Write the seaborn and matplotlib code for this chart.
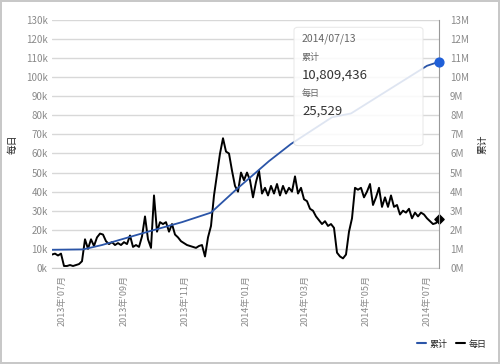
import pandas as pd
import numpy as np
import matplotlib
matplotlib.use('Agg')
import matplotlib.pyplot as plt
from matplotlib.patches import FancyBboxPatch
from matplotlib.ticker import FuncFormatter, MultipleLocator
import seaborn as sns

# daily values (k), one reading every 3 days starting 2013-06-21
daily_k = [7, 7.5, 6.5, 7.5, 1, 1, 1.5, 1, 1.5, 2, 3.5, 15, 10, 15, 11.5, 16, 18, 17.5, 14, 12.5,
           13.5, 12, 13, 12, 13.5, 12.5, 17, 11, 12, 11, 16.5, 27, 15, 10.5, 38, 19, 24, 23, 24, 19,
           23, 17.5, 16, 14, 13, 12, 11.5, 11, 10.5, 11.5, 12, 6, 16, 22, 38, 49, 60, 68, 61, 60,
           51, 43, 40, 50, 46, 50, 46, 37, 45, 51, 39, 42, 38, 43, 39, 44, 38, 43, 39, 42,
           40, 48, 39, 42, 36, 35, 31, 30, 27, 25, 23, 24.5, 22, 23, 21, 8, 6, 5, 7, 19,
           26, 42, 41, 42, 37, 40, 44, 33, 37, 42, 32, 37, 32, 38, 32, 33, 28, 30, 29, 31,
           26, 29, 27, 29, 28, 26, 24.5, 23, 23.5, 25.529]
daily_dates = pd.date_range('2013-06-21', periods=len(daily_k), freq='3D')

# cumulative total (M) read at these dates
cum_dates = pd.to_datetime(['2013-06-21', '2013-07-22', '2013-08-10', '2013-09-27', '2013-10-29',
                            '2013-11-27', '2013-12-22', '2014-01-24', '2014-02-15', '2014-03-28',
                            '2014-04-16', '2014-07-01', '2014-07-13'])
cum_m = [0.95, 0.97, 1.2, 1.93, 2.4, 2.9, 4.1, 5.6, 6.5, 7.9, 8.1, 10.6, 10.809436]

tick_dates = pd.to_datetime(['2013-07-01', '2013-09-01', '2013-11-01', '2014-01-01',
                             '2014-03-01', '2014-05-01', '2014-07-01'])

daily = pd.DataFrame({'date': daily_dates, 'v': np.array(daily_k) * 1000})
cum = pd.DataFrame({'date': cum_dates, 'v': np.array(cum_m) * 1e6})

sns.set_style('white')
plt.rcParams['font.family'] = ['Noto Sans CJK SC', 'DejaVu Sans']

fig = plt.figure(figsize=(5, 3.64), dpi=100)
fig.patch.set_edgecolor('#c8c8c8')
fig.patch.set_linewidth(1.5)
ax = fig.add_axes([0.104, 0.264, 0.774, 0.681])
ax2 = ax.twinx()

gray = '#8a8a8a'
blue_line = '#2b55a8'

sns.lineplot(data=daily, x='date', y='v', ax=ax, color='black', linewidth=1.4, zorder=3)
sns.lineplot(data=cum, x='date', y='v', ax=ax2, color=blue_line, linewidth=1.3, zorder=2)

ax.set_ylim(0, 130000)
ax2.set_ylim(0, 13e6)
ax.set_xlim(daily_dates[0], daily_dates[-1])
ax.yaxis.set_major_locator(MultipleLocator(10000))
ax2.yaxis.set_major_locator(MultipleLocator(1e6))
ax.yaxis.set_major_formatter(FuncFormatter(lambda v, p: f'{int(v / 1000)}k'))
ax2.yaxis.set_major_formatter(FuncFormatter(lambda v, p: f'{int(round(v / 1e6))}M'))
ax.grid(axis='y', color='#d8d8d8', linewidth=1)
ax.set_axisbelow(True)

ax.set_xticks(tick_dates)
ax.set_xticklabels([d.strftime("%Y年'%m月") for d in tick_dates], rotation=90, fontsize=6.5, color=gray)
ax.tick_params(axis='x', length=3, color='#cccccc', pad=2)
ax.tick_params(axis='y', length=0, labelsize=7, colors=gray, pad=3)
ax2.tick_params(axis='y', length=0, labelsize=7, colors=gray, pad=8)

for s in ['top', 'left', 'right']:
    ax.spines[s].set_visible(False)
    ax2.spines[s].set_visible(False)
ax.spines['bottom'].set_color('#cccccc')
ax2.spines['bottom'].set_visible(False)
ax2.spines['right'].set_visible(True)
ax2.spines['right'].set_color('#999999')
ax2.spines['right'].set_linewidth(0.8)

ax.set_xlabel('')
ax.set_ylabel('每日', fontsize=7, color='#222222', rotation=90, labelpad=6)
ax2.set_ylabel('累计', fontsize=7, color='#222222', rotation=90, labelpad=6)
if ax.get_legend():
    ax.get_legend().remove()

# tooltip box
box = FancyBboxPatch((0.588, 0.60), 0.258, 0.325, boxstyle='round,pad=0,rounding_size=0.008',
                     transform=fig.transFigure, facecolor='white', edgecolor='#e6e6e6',
                     alpha=0.85, linewidth=0.8, zorder=5, clip_on=False)
ax2.add_patch(box)
ax2.scatter([cum_dates[-1]], [cum_m[-1] * 1e6], s=40, color='#1f5fd8', zorder=7, clip_on=False)
ax.scatter([daily_dates[-1]], [daily_k[-1] * 1000], s=22, marker='D', color='black', zorder=7, clip_on=False)

tx = 0.604
ax2.text(tx, 0.885, '2014/07/13', transform=fig.transFigure, fontsize=7.5, color='#666666', zorder=8)
ax2.text(tx, 0.835, '累计', transform=fig.transFigure, fontsize=6.5, color='#666666', zorder=8)
ax2.text(tx, 0.785, '10,809,436', transform=fig.transFigure, fontsize=9.5, color='#333333', zorder=8)
ax2.text(tx, 0.735, '每日', transform=fig.transFigure, fontsize=6.5, color='#666666', zorder=8)
ax2.text(tx, 0.685, '25,529', transform=fig.transFigure, fontsize=9.5, color='#333333', zorder=8)

# legend at bottom right
fig.legend(handles=[plt.Line2D([], [], color=blue_line, lw=1.5), plt.Line2D([], [], color='black', lw=1.5)],
           labels=['累计', '每日'], loc='lower right', bbox_to_anchor=(0.99, 0.02), ncol=2, frameon=False,
           fontsize=6.5, handlelength=1.0, handletextpad=0.4, columnspacing=1.0)

fig.savefig('out.png', dpi=100)
